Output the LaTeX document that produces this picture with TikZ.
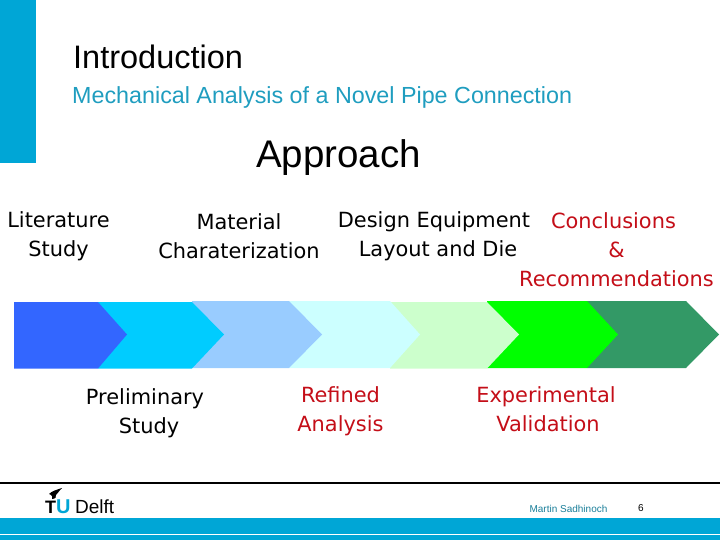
\documentclass[tikz,border=0pt]{standalone}
\usepackage{fontspec}
\setmainfont{Liberation Sans}
\newfontfamily\labelfont{DejaVu Sans}
\definecolor{tubar}{HTML}{00A6D6}
\definecolor{tutext}{HTML}{1F9DBF}
\definecolor{labelred}{HTML}{C40E18}
\definecolor{arrowa}{HTML}{3366FF}
\definecolor{arrowb}{HTML}{00CCFF}
\definecolor{arrowc}{HTML}{99CCFF}
\definecolor{arrowd}{HTML}{CCFFFF}
\definecolor{arrowe}{HTML}{CCFFCC}
\definecolor{arrowf}{HTML}{00FF00}
\definecolor{arrowg}{HTML}{339966}
\tikzset{
  steplabel/.style={align=center,font=\labelfont\fontsize{20.9}{29}\selectfont,inner sep=0pt},
}
\begin{document}
\begin{tikzpicture}[x=1pt,y=-1pt]
\useasboundingbox (0,0) rectangle (720,540);
\fill[tubar] (0,0) rectangle (36,163);
\node[anchor=west,inner sep=0pt,font=\fontsize{32.5}{36}\selectfont] (title) at (73,57) {Introduction};
\node[anchor=west,inner sep=0pt,text=tutext,font=\fontsize{23.3}{28}\selectfont] (subtitle) at (72,97) {Mechanical Analysis of a Novel Pipe Connection};
\node[inner sep=0pt,font=\fontsize{38.5}{42}\selectfont] (approach) at (338.5,158) {Approach};

\fill[arrowg] (587,301) -- (686,301) -- (719,334.5) -- (686,368) -- (587,368) -- cycle;
\fill[arrowf] (487,301) -- (587,301) -- (618,334.5) -- (587,368) -- (487,368) -- cycle;
\fill[arrowe] (390,302) -- (487,302) -- (519,334.5) -- (487,368.5) -- (390,368.5) -- cycle;
\fill[arrowd] (289,301) -- (390,301) -- (420,334.5) -- (390,368) -- (289,368) -- cycle;
\fill[arrowc] (192,301) -- (289,301) -- (322,334.5) -- (289,368) -- (192,368) -- cycle;
\fill[arrowb] (98,302) -- (192,302) -- (224,334.5) -- (192,368.5) -- (98,368.5) -- cycle;
\fill[arrowa] (14,302) -- (98,302) -- (127,334.5) -- (98,368.5) -- (14,368.5) -- cycle;

\node[steplabel] (literature) at (58.5,236) {Literature\\Study};
\node[steplabel] (material) at (239,236) {Material\\Charaterization};
\node[steplabel] (equipment) at (434,236) {Design Equipment\\\hspace*{8pt}Layout and Die};
\node[steplabel,text=labelred,anchor=north] (conclusions) at (616.5,212) {Conclusions\hspace*{6pt}\\\&\\Recommendations};
\node[steplabel] (preliminary) at (145,413) {Preliminary\\\hspace*{8pt}Study};
\node[steplabel,text=labelred] (refined) at (340.5,411) {Refined\\Analysis};
\node[steplabel,text=labelred] (validation) at (546,409) {Experimental\\\hspace*{4pt}Validation};

\draw[line width=2pt] (0,483) -- (720,483);
\fill[tubar] (0,518) rectangle (720,534);
\fill[tubar] (0,535) rectangle (720,540);

% logo
\fill[black] (49,494) .. controls (52,491) and (56,490) .. (62,488) .. controls (59,491) and (58,493) .. (56,495) .. controls (57,497) and (55,499) .. (52,499) .. controls (53,497) and (52,495) .. (49,494) -- cycle;
\node[anchor=base west,inner sep=0pt,font=\fontsize{18}{20}\bfseries\selectfont] (logot) at (45,513) {T};
\node[anchor=base west,inner sep=0pt,text=tubar,font=\fontsize{20}{20}\bfseries\selectfont] (logou) at (56,513) {U};
\node[anchor=base west,inner sep=0pt,font=\fontsize{19}{20}\selectfont] (logodelft) at (75,513) {Delft};

\node[inner sep=0pt,text=tutext!80!black,font=\fontsize{10}{12}\selectfont] (author) at (568.5,508.5) {Martin Sadhinoch};
\node[inner sep=0pt,font=\fontsize{10}{12}\selectfont] (page) at (641,508.5) {6};
\end{tikzpicture}
\end{document}
